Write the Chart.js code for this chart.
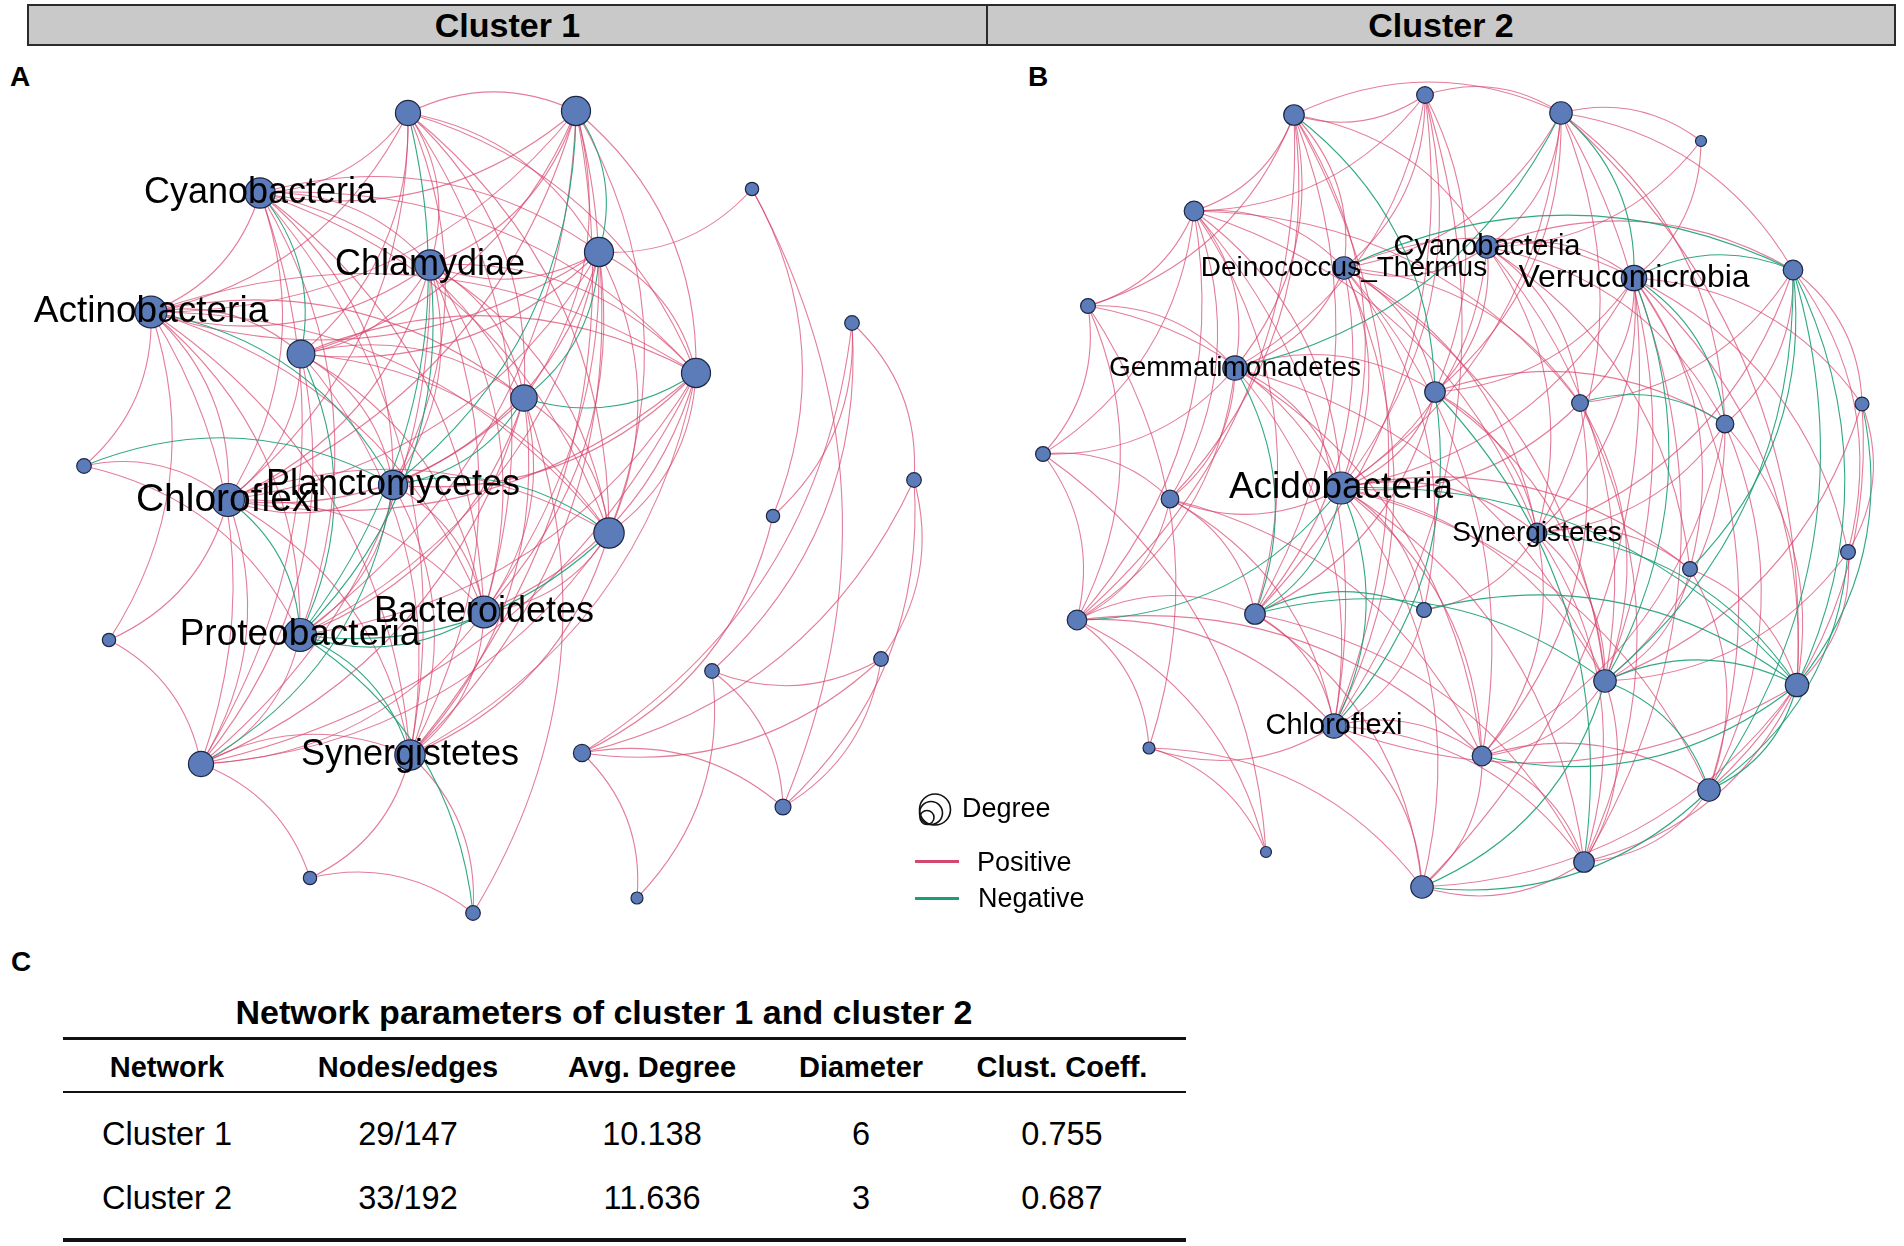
<!DOCTYPE html>
<html lang="en">
<head>
<meta charset="UTF-8">
<title>Co-occurrence networks of cluster 1 and cluster 2</title>
<script src="https://cdn.jsdelivr.net/npm/chart.js"></script>
<style>
  body { margin: 0; width: 1904px; height: 1246px; position: relative; overflow: hidden; background: #fff;
         font-family: "Liberation Sans", Arial, sans-serif; color: #000; }
  .bar { position: absolute; top: 4px; height: 42px; box-sizing: border-box; background: #c9c9c9;
         border: 2px solid #2b2b2b; font-weight: bold; font-size: 34px;
         display: flex; align-items: center; justify-content: center; }
  .tag { position: absolute; font-weight: bold; font-size: 28px; line-height: 28px; }
  canvas { position: absolute; }
  .legend { position: absolute; font-size: 27px; line-height: 27px; z-index: 2; }
  .key { position: absolute; height: 3px; width: 44px; z-index: 2; }
  .rule { position: absolute; left: 63px; width: 1123px; background: #111; }
  .cell { position: absolute; transform: translate(-50%, -50%); white-space: nowrap; }
</style>
</head>
<body>
<div class="bar" style="left:27px;width:961px">Cluster 1</div>
<div class="bar" style="left:986px;width:910px">Cluster 2</div>
<div class="tag" style="left:10px;top:63px">A</div>
<div class="tag" style="left:1028px;top:63px">B</div>
<div class="tag" style="left:11px;top:948px">C</div>

<canvas id="netA" width="990" height="880" style="left:0;top:50px"></canvas>
<canvas id="netB" width="914" height="880" style="left:990px;top:50px"></canvas>

<svg width="40" height="40" style="position:absolute;left:915px;top:790px;z-index:2">
  <circle cx="20" cy="19.5" r="15.5" fill="none" stroke="#111" stroke-width="1.6"/>
  <circle cx="16" cy="23" r="11.5" fill="none" stroke="#111" stroke-width="1.6"/>
  <circle cx="12" cy="27.5" r="7" fill="none" stroke="#111" stroke-width="1.6"/>
</svg>
<div class="legend" style="left:962px;top:795px">Degree</div>
<div class="key" style="left:915px;top:860px;background:#d4476f"></div>
<div class="legend" style="left:977px;top:849px">Positive</div>
<div class="key" style="left:915px;top:897px;background:#1b9e77"></div>
<div class="legend" style="left:978px;top:885px">Negative</div>

<div id="table"></div>

<script>
// ---------- Cluster 1 (panel A) ----------
const nodeXA = [408, 576, 260, 752, 599, 430, 151, 301, 852, 696, 524, 84, 914, 393, 228, 773, 609, 484, 300, 109, 881, 712, 201, 410, 582, 783, 310, 637, 473];
const nodeYA = [113, 111, 193, 189, 252, 265, 312, 354, 323, 373, 398, 466, 480, 485, 500, 516, 533, 612, 635, 640, 659, 671, 764, 755, 753, 807, 878, 898, 913];
const degreeA = [12, 15, 16, 3, 15, 16, 17, 14, 4, 15, 13, 4, 4, 15, 18, 3, 16, 17, 18, 3, 4, 4, 12, 16, 6, 5, 3, 2, 4];
const labelsA = ['', '', 'Cyanobacteria', '', '', 'Chlamydiae', 'Actinobacteria', '', '', '', '', '', '',
  'Planctomycetes', 'Chloroflexi', '', '', 'Bacteroidetes', 'Proteobacteria', '', '', '', '', 'Synergistetes', '', '', '', '', ''];
const edgesA = [
  [0,1],[0,2],[0,4],[0,5],[0,6],[0,7],[0,9],[0,10],[0,13],[0,14],[0,16],[0,17],[0,18],
  [1,2],[1,4],[1,5],[1,6],[1,7],[1,9],[1,10],[1,13],[1,14],[1,16],[1,17],[1,18],[1,23],
  [2,4],[2,5],[2,6],[2,7],[2,9],[2,10],[2,13],[2,14],[2,16],[2,17],[2,18],[2,22],[2,23],
  [4,5],[4,6],[4,7],[4,9],[4,10],[4,13],[4,14],[4,16],[4,17],[4,18],[4,23],
  [5,6],[5,7],[5,9],[5,10],[5,13],[5,14],[5,16],[5,17],[5,18],[5,22],[5,23],
  [6,7],[6,9],[6,10],[6,13],[6,14],[6,16],[6,17],[6,18],[6,22],[6,23],
  [7,9],[7,10],[7,13],[7,14],[7,16],[7,17],[7,18],[7,22],[7,23],
  [9,10],[9,13],[9,14],[9,16],[9,17],[9,18],[9,22],[9,23],
  [10,13],[10,14],[10,16],[10,17],[10,18],[10,22],[10,23],
  [13,14],[13,16],[13,17],[13,18],[13,22],[13,23],
  [14,16],[14,17],[14,18],[14,22],[14,23],
  [16,17],[16,18],[16,22],[16,23],
  [17,18],[17,22],[17,23],
  [18,22],[18,23],
  [22,23],
  [6,11],[11,14],[11,18],[11,13],
  [6,19],[14,19],[19,22],
  [22,26],[23,26],[26,28],
  [18,28],[23,28],[10,28],
  [3,4],[3,15],[3,25],[8,12],[8,15],[8,24],[8,21],[12,20],[12,24],
  [12,25],[15,24],[20,21],[20,25],[20,24],[21,25],[21,27],[24,25],[24,27]
];
const negativeA = [[0,18],[1,4],[4,10],[2,7],[6,13],[9,10],[11,13],[14,18],[18,28],
  [17,18],[18,23],[16,18],[5,18],[13,22],[10,13],[13,16],[7,18],[1,13]];

// ---------- Cluster 2 (panel B) ----------
const nodeXB = [1425, 1294, 1561, 1701, 1194, 1487, 1344, 1634, 1793, 1088, 1235, 1435, 1580, 1862, 1725, 1043, 1341,
  1170, 1537, 1848, 1690, 1077, 1255, 1424, 1605, 1797, 1334, 1149, 1482, 1709, 1266, 1584, 1422];
const nodeYB = [95, 115, 113, 141, 211, 247, 268, 278, 270, 306, 368, 392, 403, 404, 424, 454, 488,
  499, 533, 552, 569, 620, 614, 610, 681, 685, 726, 748, 756, 790, 852, 862, 887];
const degreeB = [9, 13, 15, 3, 12, 15, 15, 18, 12, 7, 17, 13, 9, 6, 10, 7, 25, 10, 12, 7, 7, 12, 13, 7, 15, 16, 17, 4, 12, 15, 3, 13, 15];
const labelsB = ['', '', '', '', '', 'Cyanobacteria', 'Deinococcus_Thermus', 'Verrucomicrobia', '', '', 'Gemmatimonadetes',
  '', '', '', '', '', 'Acidobacteria', '', 'Synergistetes', '', '', '', '', '', '', '', 'Chloroflexi', '', '', '', '', '', ''];
const edgesB = [
  [0,1],[0,2],[0,4],[0,6],[0,10],[0,11],[0,16],[0,22],[0,26],
  [1,2],[1,4],[1,5],[1,6],[1,9],[1,10],[1,11],[1,16],[1,17],[1,21],[1,22],[1,26],
  [2,3],[2,5],[2,6],[2,7],[2,8],[2,10],[2,11],[2,14],[2,16],[2,18],[2,24],[2,25],
  [3,5],[3,7],
  [4,6],[4,9],[4,10],[4,12],[4,15],[4,16],[4,17],[4,18],[4,21],[4,22],[4,26],
  [5,6],[5,7],[5,8],[5,11],[5,12],[5,14],[5,16],[5,18],[5,20],[5,24],
  [6,7],[6,8],[6,10],[6,11],[6,12],[6,16],[6,18],[6,22],[6,23],[6,24],[6,26],[6,28],
  [7,8],[7,11],[7,12],[7,13],[7,14],[7,16],[7,18],[7,19],[7,20],[7,24],[7,25],[7,29],[7,31],[7,32],
  [8,12],[8,13],[8,14],[8,18],[8,19],[8,20],[8,24],[8,25],[8,29],
  [9,10],[9,15],[9,16],[9,21],[9,27],
  [10,11],[10,15],[10,16],[10,17],[10,21],[10,22],[10,24],[10,26],[10,28],
  [11,14],[11,16],[11,18],[11,22],[11,24],[11,26],[11,31],
  [12,14],[12,16],[12,24],[12,28],[12,31],
  [13,19],[13,24],[13,25],[13,29],
  [14,18],[14,24],[14,25],[14,28],[14,29],
  [15,17],[15,21],[15,30],
  [16,17],[16,18],[16,20],[16,21],[16,22],[16,23],[16,24],[16,25],[16,26],[16,28],[16,29],[16,31],[16,32],
  [17,21],[17,22],[17,26],[17,28],
  [18,20],[18,23],[18,24],[18,25],[18,28],[18,31],
  [19,24],[19,25],[19,29],
  [20,24],[20,25],[20,29],
  [21,22],[21,26],[21,27],[21,28],[21,30],
  [22,23],[22,24],[22,26],[22,31],[22,32],
  [23,25],[23,26],
  [24,25],[24,28],[24,29],[24,31],[24,32],
  [25,26],[25,28],[25,29],[25,31],[25,32],
  [26,27],[26,28],[26,31],[26,32],
  [27,30],[27,32],
  [28,29],[28,31],[28,32],
  [29,31],[29,32],
  [31,32]
];
const negativeB = [[1,11],[2,10],[2,7],[6,8],[7,8],[8,24],[8,25],[8,29],[8,20],[7,14],[12,14],[16,22],[16,26],
  [10,22],[22,23],[22,24],[23,25],[24,32],[24,25],[24,29],[25,29],[25,28],[16,25],[29,32],[11,31],[11,26],
  [16,21],[18,25],[7,24],[13,25],[19,29]];

// ---------- Table (panel C) ----------
const tableTitle = 'Network parameters of cluster 1 and cluster 2';
const tableHeader = ['Network', 'Nodes/edges', 'Avg. Degree', 'Diameter', 'Clust. Coeff.'];
const tableRows = [
  ['Cluster 1', '29/147', '10.138', '6', '0.755'],
  ['Cluster 2', '33/192', '11.636', '3', '0.687']
];

// styles
const POS_COLOR = 'rgba(214, 64, 104, 0.68)';
const NEG_COLOR = 'rgba(27, 158, 119, 0.9)';
const NODE_FILL = '#5b7bb9';
const NODE_EDGE = '#1d2745';
const CURVE = 0.24;
const FONT = '"Liberation Sans", Arial, sans-serif';
const LABEL_PX = {
  A: { Cyanobacteria: 36, Chlamydiae: 36, Actinobacteria: 37, Planctomycetes: 36, Chloroflexi: 39,
       Bacteroidetes: 36, Proteobacteria: 37, Synergistetes: 36 },
  B: { Cyanobacteria: 29, Deinococcus_Thermus: 28, Verrucomicrobia: 32, Gemmatimonadetes: 28,
       Acidobacteria: 37, Synergistetes: 28, Chloroflexi: 29 }
};

function sizeScale(degrees, rMin, rMax) {
  const lo = Math.min(...degrees), hi = Math.max(...degrees);
  return degrees.map(d => rMin + (rMax - rMin) * (d - lo) / (hi - lo));
}

function networkPlugin(net) {
  const neg = new Set(net.negative.map(([a, b]) => Math.min(a, b) + '-' + Math.max(a, b)));
  return {
    id: 'network',
    beforeDatasetsDraw(chart) {
      const { ctx, scales: { x, y } } = chart;
      ctx.save();
      ctx.lineWidth = 1.1;
      [false, true].forEach(isNeg => {
        ctx.strokeStyle = isNeg ? NEG_COLOR : POS_COLOR;
        net.edges.forEach(([a, b]) => {
          if (neg.has(Math.min(a, b) + '-' + Math.max(a, b)) !== isNeg) return;
          const x1 = x.getPixelForValue(net.xs[a]), y1 = y.getPixelForValue(net.ys[a]);
          const x2 = x.getPixelForValue(net.xs[b]), y2 = y.getPixelForValue(net.ys[b]);
          const dx = x2 - x1, dy = y2 - y1;
          ctx.beginPath();
          ctx.moveTo(x1, y1);
          ctx.quadraticCurveTo((x1 + x2) / 2 + CURVE * dy, (y1 + y2) / 2 - CURVE * dx, x2, y2);
          ctx.stroke();
        });
      });
      ctx.restore();
    },
    afterDatasetsDraw(chart) {
      const { ctx, scales: { x, y } } = chart;
      ctx.save();
      ctx.fillStyle = '#000';
      ctx.textAlign = 'center';
      ctx.textBaseline = 'middle';
      net.labels.forEach((name, i) => {
        if (!name) return;
        ctx.font = net.labelPx[name] + 'px ' + FONT;
        ctx.fillText(name, x.getPixelForValue(net.xs[i]), y.getPixelForValue(net.ys[i]));
      });
      ctx.restore();
    }
  };
}

function drawNetwork(id, net, xRange, yRange) {
  const radii = sizeScale(net.degree, net.rMin, net.rMax);
  new Chart(document.getElementById(id), {
    type: 'scatter',
    data: {
      datasets: [{
        data: net.xs.map((v, i) => ({ x: v, y: net.ys[i] })),
        pointRadius: radii,
        pointHoverRadius: radii,
        backgroundColor: NODE_FILL,
        borderColor: NODE_EDGE,
        borderWidth: 1.2,
        clip: false
      }]
    },
    options: {
      responsive: false,
      animation: false,
      events: [],
      layout: { padding: 0, autoPadding: false },
      scales: {
        x: { type: 'linear', min: xRange[0], max: xRange[1], display: false },
        y: { type: 'linear', min: yRange[0], max: yRange[1], reverse: true, display: false }
      },
      plugins: { legend: { display: false }, tooltip: { enabled: false } }
    },
    plugins: [networkPlugin(net)]
  });
}

drawNetwork('netA', {
  xs: nodeXA, ys: nodeYA, degree: degreeA, labels: labelsA, edges: edgesA, negative: negativeA,
  labelPx: LABEL_PX.A, rMin: 6, rMax: 16.5
}, [0, 990], [50, 930]);

drawNetwork('netB', {
  xs: nodeXB, ys: nodeYB, degree: degreeB, labels: labelsB, edges: edgesB, negative: negativeB,
  labelPx: LABEL_PX.B, rMin: 5.5, rMax: 16
}, [990, 1904], [50, 930]);

// table of network parameters
const COL_X = [167, 408, 652, 861, 1062];
const table = document.getElementById('table');
function cell(text, cx, cy, css) {
  const d = document.createElement('div');
  d.className = 'cell';
  d.textContent = text;
  d.style.cssText = `left:${cx}px;top:${cy}px;${css}`;
  table.appendChild(d);
}
function rule(top, h) {
  const d = document.createElement('div');
  d.className = 'rule';
  d.style.cssText = `top:${top}px;height:${h}px`;
  table.appendChild(d);
}
cell(tableTitle, 604, 1012, 'font-weight:bold;font-size:34px');
rule(1037, 3);
tableHeader.forEach((h, i) => cell(h, COL_X[i], 1067, 'font-weight:bold;font-size:29px'));
rule(1091, 2);
tableRows.forEach((row, r) => row.forEach((v, i) => cell(v, COL_X[i], [1134, 1198][r], 'font-size:32.5px')));
rule(1238, 4);
</script>
</body>
</html>
